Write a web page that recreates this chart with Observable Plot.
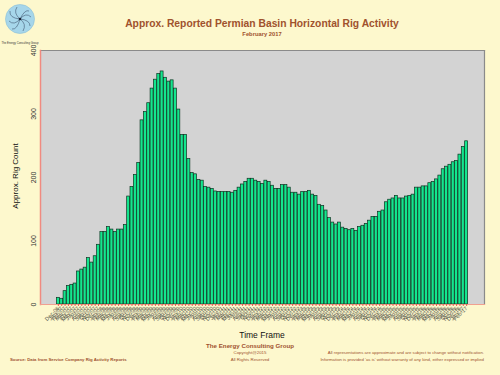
<!DOCTYPE html>
<html>
<head>
<meta charset="utf-8">
<script src="https://cdn.jsdelivr.net/npm/d3@7"></script>
<script src="https://cdn.jsdelivr.net/npm/@observablehq/plot@0.6"></script>
<style>
  html, body { margin: 0; padding: 0; background: #fdf8cd; }
  body { width: 500px; height: 375px; position: relative; overflow: hidden; font-family: "Liberation Sans", Arial, sans-serif; }
  .t { position: absolute; white-space: nowrap; color: #a0522d; font-weight: bold; }
  #chart { position: absolute; left: 0; top: 0; }
</style>
</head>
<body>
<div id="chart"></div>

<svg style="position:absolute;left:0;top:0" width="45" height="48">
  <circle cx="20" cy="19" r="14.5" fill="#a6d6ea" stroke="#8cc0d6" stroke-width="0.6"/>
  <g fill="none" stroke="#2a3a55" stroke-width="0.6" opacity="0.8">
    <path d="M20 19 Q26 12 31 17"/>
    <path d="M20 19 Q27 24 23 31"/>
    <path d="M20 19 Q14 26 9 21"/>
    <path d="M20 19 Q13 13 17 7"/>
    <path d="M20 19 Q25 9 29 11"/>
    <path d="M20 19 Q30 20 30 26"/>
    <path d="M20 19 Q17 30 12 29"/>
    <path d="M20 19 Q9 18 10 11"/>
  </g>
  <circle cx="20" cy="19" r="1.3" fill="#1a2233"/>
  <text x="20" y="43.5" text-anchor="middle" font-size="2.8" fill="#333" font-family="Liberation Sans, Arial">The Energy Consulting Group</text>
</svg>

<div class="t" style="left:262px;top:17.5px;transform:translateX(-50%);font-size:10.3px;">Approx. Reported Permian Basin Horizontal Rig Activity</div>
<div class="t" style="left:262px;top:31px;transform:translateX(-50%);font-size:5.8px;">February 2017</div>

<div style="position:absolute;left:15px;top:176px;transform:translate(-50%,-50%) rotate(-90deg);font-size:8px;color:#111;white-space:nowrap;">Approx. Rig Count</div>

<div style="position:absolute;left:262px;top:330px;transform:translateX(-50%);font-size:8.5px;color:#111;white-space:nowrap;">Time Frame</div>
<div class="t" style="left:250px;top:341.5px;transform:translateX(-50%);font-size:6.2px;">The Energy Consulting Group</div>
<div class="t" style="left:250px;top:350px;transform:translateX(-50%);font-size:4.4px;font-weight:normal;">Copyright@2015</div>
<div class="t" style="left:250px;top:357px;transform:translateX(-50%);font-size:4.4px;font-weight:normal;">All Rights Reserved</div>
<div class="t" style="left:10px;top:357px;font-size:4.3px;">Source: Data from Service Company Rig Activity Reports</div>
<div class="t" style="right:16px;top:350px;font-size:4.3px;font-weight:normal;text-align:right;">All representations are approximate and are subject to change without notification.</div>
<div class="t" style="right:16px;top:357px;font-size:4.3px;font-weight:normal;text-align:right;">Information is provided 'as is' without warranty of any kind, either expressed or implied</div>

<script>
// Monthly labels: Dec-06 through Feb-17
const months = d3.utcMonth
  .range(new Date(Date.UTC(2006, 11, 1)), new Date(Date.UTC(2017, 2, 1)))
  .map(d3.utcFormat("%b-%y"));

// Approx. rig count per month
const rigCount = [
  10.5, 9, 21, 29, 31, 33, 52, 55, 58, 73,
  66, 76, 94, 114, 114, 122, 118, 114, 118, 118,
  125, 170, 185, 204, 223, 290, 303, 317, 340, 354,
  363, 367, 357, 351, 353, 340, 307, 267, 267, 229,
  207, 205, 196, 195, 185, 184, 182, 178, 177, 177,
  177, 177, 176, 179, 184, 189, 193, 198, 198, 195,
  193, 190, 195, 193, 187, 182, 182, 188, 188, 184,
  176, 176, 173, 177, 177, 179, 173, 171,
  157, 155, 148, 136, 129, 126, 129, 121, 119, 117,
  119, 116, 122, 124, 127, 132, 138, 138, 146, 148,
  161, 165, 167, 171, 167, 167, 170, 171, 173, 184,
  184, 186, 186, 191, 193, 197, 203, 213, 217, 220,
  224, 226, 236, 248, 257
];

const yTicks = [0, 100, 200, 300, 400];

const data = months.map((m, i) => ({month: m, count: rigCount[i]}));

const chart = Plot.plot({
  width: 500,
  height: 375,
  marginLeft: 40,
  marginRight: 16,
  marginTop: 50,
  marginBottom: 71,
  style: {background: "transparent", fontFamily: "Liberation Sans, Arial, sans-serif"},
  x: {domain: months, padding: 0.12, insetLeft: 16, insetRight: 16, label: null},
  y: {domain: [0, 400], label: null},
  marks: [
    Plot.frame({fill: "#d3d3d3", stroke: null}),
    Plot.frame({anchor: "top", stroke: "#8a8a8a", strokeWidth: 1.2}),
    Plot.frame({anchor: "right", stroke: "#8a8a8a", strokeWidth: 1.2}),
    Plot.barY(data, {x: "month", y: "count", fill: "#14e68e", stroke: "#0c3320", strokeWidth: 0.7}),
    Plot.frame({anchor: "left", stroke: "#f08a80", strokeWidth: 1.5}),
    Plot.frame({anchor: "bottom", stroke: "#f0a090", strokeWidth: 1}),
    Plot.axisX({tickRotate: -45, tickSize: 2, tickPadding: 1, fontSize: 5.5, stroke: "#e0604f", fill: "#55554a", label: null}),
    Plot.axisY({ticks: yTicks, tickRotate: -90, tickSize: 0, tickPadding: 5, fontSize: 7, fill: "#333", label: null})
  ]
});
document.getElementById("chart").appendChild(chart);
</script>
</body>
</html>
